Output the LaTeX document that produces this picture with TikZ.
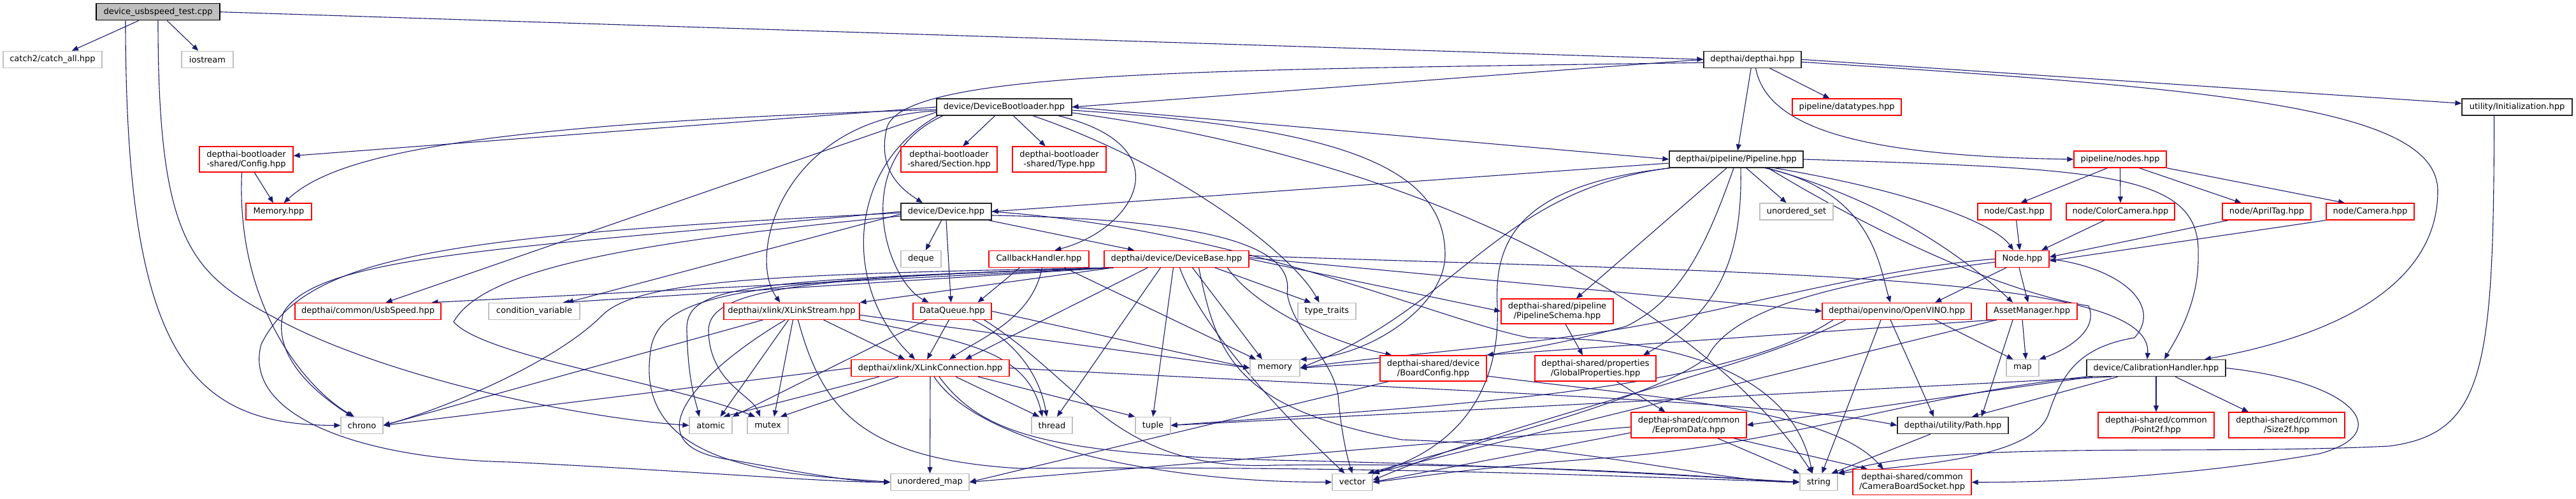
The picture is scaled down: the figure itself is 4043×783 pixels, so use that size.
\documentclass[tikz,border=0pt]{standalone}
\usepackage{fontspec}
\setmainfont{DejaVu Sans}
\usetikzlibrary{arrows.meta}
\definecolor{edgec}{HTML}{191970}
\definecolor{ndgray}{HTML}{BFBFBF}
\pgfdeclarelayer{bg}
\pgfsetlayers{bg,main}
\tikzset{
  box/.style={rectangle, fill=white, inner sep=0pt, minimum height=26pt, line width=1.3pt, align=center, font=\fontsize{13}{15}\selectfont},
  sysbox/.style={box, draw=ndgray},
  docbox/.style={box, draw=black!85},
  redbox/.style={box, draw=red},
  rootbox/.style={box, draw=black, fill=ndgray},
  e/.style={draw=edgec, line width=1.1pt, -{Triangle[length=10pt,width=8pt]}},
}
\begin{document}
\begin{tikzpicture}[x=1pt,y=-1pt]
\useasboundingbox (0,0) rectangle (4043,783);
% ---------- nodes ----------
\node[rootbox, minimum width=194pt] (test) at (248,18.7) {device\_usbspeed\_test.cpp};
\node[sysbox, minimum width=155pt] (catch) at (82.5,93.3) {catch2/catch\_all.hpp};
\node[sysbox, minimum width=81pt] (iostream) at (325.5,93.3) {iostream};
\node[docbox, minimum width=153pt] (depthai) at (2750.5,93.3) {depthai/depthai.hpp};
\node[docbox, minimum width=212pt] (db) at (1576,168) {device/DeviceBootloader.hpp};
\node[redbox, minimum width=171pt] (datatypes) at (2898.5,168) {pipeline/datatypes.hpp};
\node[docbox, minimum width=173pt] (init) at (3950.5,168) {utility/Initialization.hpp};
\node[redbox, minimum width=147pt, minimum height=40pt] (blconfig) at (386.5,250) {depthai-bootloader\\-shared/Config.hpp};
\node[redbox, minimum width=151pt, minimum height=40pt] (blsection) at (1489.5,250) {depthai-bootloader\\-shared/Section.hpp};
\node[redbox, minimum width=147pt, minimum height=40pt] (bltype) at (1662.5,250) {depthai-bootloader\\-shared/Type.hpp};
\node[docbox, minimum width=210pt] (pipeline) at (2725,250) {depthai/pipeline/Pipeline.hpp};
\node[redbox, minimum width=145pt] (nodes) at (3327.5,250) {pipeline/nodes.hpp};
\node[redbox, minimum width=103pt] (blmemory) at (437.5,332) {Memory.hpp};
\node[docbox, minimum width=142pt] (device) at (1485,332) {device/Device.hpp};
\node[sysbox, minimum width=115pt] (uset) at (2819.5,332) {unordered\_set};
\node[redbox, minimum width=115pt] (cast) at (3161.5,332) {node/Cast.hpp};
\node[redbox, minimum width=170pt] (colorcam) at (3328,332) {node/ColorCamera.hpp};
\node[redbox, minimum width=139pt] (apriltag) at (3557.5,332) {node/AprilTag.hpp};
\node[redbox, minimum width=138pt] (camera) at (3720,332) {node/Camera.hpp};
\node[sysbox, minimum width=63pt] (deque) at (1445.5,406.3) {deque};
\node[redbox, minimum width=157pt] (callback) at (1630.5,406.3) {CallbackHandler.hpp};
\node[redbox, minimum width=227pt] (devbase) at (1846.5,406.3) {depthai/device/DeviceBase.hpp};
\node[redbox, minimum width=84pt] (nodehpp) at (3174,406.3) {Node.hpp};
\node[redbox, minimum width=229pt] (usb) at (577.5,488.3) {depthai/common/UsbSpeed.hpp};
\node[sysbox, minimum width=143pt] (condvar) at (838.5,488.3) {condition\_variable};
\node[redbox, minimum width=213pt] (xstream) at (1242.5,488.3) {depthai/xlink/XLinkStream.hpp};
\node[redbox, minimum width=123pt] (dataqueue) at (1494.5,488.3) {DataQueue.hpp};
\node[sysbox, minimum width=91pt] (typetraits) at (2082.5,488.3) {type\_traits};
\node[redbox, minimum width=176pt, minimum height=39pt] (schema) at (2444,488.5) {depthai-shared/pipeline\\/PipelineSchema.hpp};
\node[redbox, minimum width=234pt] (openvino) at (2977,488.3) {depthai/openvino/OpenVINO.hpp};
\node[redbox, minimum width=142pt] (asset) at (3189,488.3) {AssetManager.hpp};
\node[redbox, minimum width=248pt] (xconn) at (1460,577.5) {depthai/xlink/XLinkConnection.hpp};
\node[sysbox, minimum width=78pt] (stdmemory) at (2001,577.5) {memory};
\node[redbox, minimum width=167pt, minimum height=40pt] (board) at (2249.5,578) {depthai-shared/device\\/BoardConfig.hpp};
\node[redbox, minimum width=190pt, minimum height=40pt] (global) at (2504,578) {depthai-shared/properties\\/GlobalProperties.hpp};
\node[sysbox, minimum width=51pt] (stdmap) at (3174.5,577.5) {map};
\node[docbox, minimum width=218pt] (calib) at (3384,577.5) {device/CalibrationHandler.hpp};
\node[sysbox, minimum width=66pt] (chrono) at (568,667.5) {chrono};
\node[sysbox, minimum width=67pt] (atomic) at (1115.5,667.5) {atomic};
\node[sysbox, minimum width=64pt] (mutex) at (1205,667.5) {mutex};
\node[sysbox, minimum width=64pt] (thread) at (1651,667.5) {thread};
\node[sysbox, minimum width=55pt] (tuple) at (1809.5,667.5) {tuple};
\node[redbox, minimum width=181pt, minimum height=40pt] (eeprom) at (2650.5,667) {depthai-shared/common\\/EepromData.hpp};
\node[docbox, minimum width=174pt] (utilpath) at (3065,667.5) {depthai/utility/Path.hpp};
\node[redbox, minimum width=182pt, minimum height=40pt] (point2f) at (3384,667) {depthai-shared/common\\/Point2f.hpp};
\node[redbox, minimum width=182pt, minimum height=40pt] (size2f) at (3589,667) {depthai-shared/common\\/Size2f.hpp};
\node[sysbox, minimum width=123pt] (umap) at (1459.5,756.5) {unordered\_map};
\node[sysbox, minimum width=63pt] (stdvector) at (2122.5,756.5) {vector};
\node[sysbox, minimum width=59pt] (stdstring) at (2854.5,756.5) {string};
\node[redbox, minimum width=186pt, minimum height=40pt] (socket) at (3001,756.7) {depthai-shared/common\\/CameraBoardSocket.hpp};
\coordinate (dbl) at ([xshift=15pt]devbase.south west);
% ---------- edges ----------
\begin{pgfonlayer}{bg}
% test
\draw[e] (test) -- (catch);
\draw[e] (test) -- (iostream);
\draw[e] (test.east) -- (depthai.west);
\draw[e] ([xshift=-51pt]test.south) .. controls (197,560) and (300,667) .. (chrono.west);
\draw[e] (test.south) .. controls (248,380) and (300,430) .. (434,500) .. controls (600,590) and (900,655) .. (atomic.west);
% depthai
\draw[e] (depthai.west) -- (db.east);
\draw[e] ([yshift=-5pt]depthai.west) .. controls (1900,110) and (1420,110) .. (1392,200) .. controls (1375,270) and (1420,300) .. ([xshift=-37pt]device.north);
\draw[e] (depthai) -- (pipeline);
\draw[e] (depthai) -- (datatypes);
\draw[e] ([xshift=5pt]depthai.south) .. controls (2775,210) and (2950,245) .. (nodes.west);
\draw[e] (depthai.east) -- (init);
\draw[e] ([yshift=-4pt]depthai.east) .. controls (3500,140) and (3826,170) .. (3826,300) .. controls (3826,430) and (3700,520) .. ([xshift=76pt]calib.north);
% init
\draw[e] ([xshift=-36pt]init.south) .. controls (3914,580) and (3900,680) .. (3750,700) .. controls (3450,715) and (3050,690) .. (stdstring.north east);
% device bootloader
\draw[e] (db.west) -- (blconfig);
\draw[e] ([yshift=-4pt]db.west) .. controls (700,195) and (520,250) .. ([xshift=8pt]blmemory.north);
\draw[e] (db) -- (blsection);
\draw[e] (db) -- (bltype);
\draw[e] (db.east) -- (pipeline.west);
\draw[e] ([xshift=85pt]db.south) .. controls (1860,230) and (1780,360) .. ([xshift=25pt]callback.north);
\draw[e] ([yshift=-6pt]db.west) .. controls (1230,185) and (1170,400) .. ([xshift=-18pt]xstream.north);
\draw[e] ([xshift=-104pt]db.south) .. controls (1330,260) and (1320,450) .. ([xshift=-24pt]xconn.north);
\draw[e] ([xshift=-96pt]db.south) .. controls (1330,250) and (1390,440) .. ([xshift=-37pt]dataqueue.north);
\draw[e] ([yshift=-8pt]db.west) -- ([xshift=28pt]usb.north);
\draw[e] ([yshift=-5pt]db.east) .. controls (2100,200) and (2268,260) .. (2268,400) .. controls (2268,480) and (2150,560) .. (stdmemory.north east);
\draw[e] ([xshift=45pt]db.south) .. controls (1850,260) and (2030,400) .. ([xshift=-12pt]typetraits.north);
\draw[e] ([yshift=-9pt]db.east) .. controls (2300,260) and (2700,520) .. ([xshift=-10pt]stdstring.north);
% bootloader config
\draw[e] (blconfig) -- (blmemory);
\draw[e] ([xshift=-7pt]blconfig.south) .. controls (370,480) and (480,610) .. ([xshift=-12pt]chrono.north);
% pipeline
\draw[e] ([yshift=-6pt]pipeline.west) -- (device.east);
\draw[e] (pipeline) -- (uset);
\draw[e] ([xshift=60pt]pipeline.south) .. controls (3000,300) and (3130,350) .. ([xshift=-14pt]nodehpp.north);
\draw[e] ([xshift=45pt]pipeline.south) .. controls (2940,300) and (2950,420) .. ([xshift=-10pt]openvino.north);
\draw[e] ([xshift=48pt]pipeline.south) .. controls (2980,320) and (3100,420) .. ([xshift=-30pt]asset.north);
\draw[e] ([xshift=50pt]pipeline.south) .. controls (2950,370) and (3150,460) .. (3278,480) .. controls (3295,520) and (3240,550) .. (stdmap.north east);
\draw[e] ([xshift=-15pt]pipeline.south) -- ([xshift=30pt]schema.north);
\draw[e] ([xshift=7pt]pipeline.south) .. controls (2735,400) and (2700,490) .. ([xshift=75pt]global.north);
\draw[e] ([xshift=-4pt]pipeline.south) .. controls (2680,380) and (2640,470) .. (2552,512) .. controls (2450,540) and (2380,550) .. (board.north east);
\draw[e] (pipeline.east) .. controls (3300,265) and (3455,270) .. (3450,400) .. controls (3452,480) and (3410,540) .. ([xshift=13pt]calib.north);
\draw[e] (pipeline.south west) .. controls (2350,300) and (2290,480) .. (stdmemory.east);
\draw[e] ([xshift=3pt]pipeline.south west) .. controls (2380,290) and (2345,380) .. (2350,480) .. controls (2355,600) and (2300,700) .. (stdvector.north east);
% nodes
\draw[e] ([xshift=-20pt]nodes.south) -- ([xshift=10pt]cast.north);
\draw[e] (nodes.south) -- (colorcam.north);
\draw[e] ([xshift=30pt]nodes.south) -- ([xshift=-40pt]apriltag.north);
\draw[e] (nodes.south east) -- ([xshift=-40pt]camera.north);
\draw[e] ([xshift=3pt]cast.south) -- ([xshift=-4pt]nodehpp.north);
\draw[e] ([xshift=-25pt]colorcam.south) -- ([xshift=30pt]nodehpp.north);
\draw[e] ([xshift=10pt]apriltag.south west) -- ([yshift=3pt]nodehpp.east);
\draw[e] (camera.south west) -- ([yshift=-3pt]nodehpp.east);
% device
\draw[e] (device) -- (deque);
\draw[e] (device.south) -- ([xshift=-2pt]dataqueue.north);
\draw[e] (device) -- (devbase);
\draw[e] (device.west) .. controls (800,390) and (500,400) .. (445,490) .. controls (425,560) and (500,620) .. ([xshift=-15pt]chrono.north);
\draw[e] ([yshift=-4pt]device.west) -- (condvar);
\draw[e] ([yshift=-7pt]device.west) .. controls (1000,380) and (760,420) .. (712,505) .. controls (760,560) and (1050,600) .. ([xshift=-20pt]mutex.north);
\draw[e] ([yshift=-2pt]device.west) .. controls (700,370) and (480,400) .. (410,540) .. controls (380,650) and (560,720) .. (800,725) .. controls (1100,740) and (1300,757) .. (umap.west);
\draw[e] (device.east) .. controls (1950,360) and (2250,500) .. (2400,530) .. controls (2700,530) and (2820,620) .. ([xshift=-10pt]stdstring.north);
\draw[e] ([yshift=-6pt]device.east) .. controls (1950,345) and (2030,400) .. (2020,460) .. controls (2030,520) and (2090,560) .. (2100,620) .. controls (2105,680) and (2115,720) .. (stdvector.north);
% device base
\draw[e] (dbl) -- ([xshift=100pt]usb.north);
\draw[e] (dbl) -- ([xshift=45pt]condvar.north);
\draw[e] (dbl) -- (xstream.north east);
\draw[e] (dbl) .. controls (1200,430) and (1000,440) .. (945,495) .. controls (870,570) and (700,640) .. (chrono.east);
\draw[e] (dbl) .. controls (1150,440) and (1075,450) .. (1078,520) .. controls (1080,600) and (1092,630) .. ([xshift=-18pt]atomic.north);
\draw[e] (dbl) .. controls (1250,435) and (1110,455) .. (1112,520) .. controls (1114,600) and (1180,620) .. ([xshift=-12pt]mutex.north);
\draw[e] (dbl) .. controls (1150,440) and (1025,460) .. (1020,560) .. controls (1000,740) and (1250,745) .. (umap.west);
\draw[e] ([xshift=-45pt]devbase.south) -- ([xshift=55pt]xconn.north);
\draw[e] ([xshift=-25pt]devbase.south) -- ([xshift=8pt]thread.north);
\draw[e] ([xshift=-5pt]devbase.south) -- (tuple.north);
\draw[e] ([xshift=5pt]devbase.south) .. controls (1880,500) and (1980,620) .. ([xshift=-12pt]stdvector.north);
\draw[e] ([xshift=25pt]devbase.south) -- ([xshift=-20pt]stdmemory.north);
\draw[e] ([xshift=35pt]devbase.south) .. controls (1910,560) and (1940,640) .. (2200,690) .. controls (2500,700) and (2700,757) .. (stdstring.west);
\draw[e] ([xshift=60pt]devbase.south) -- ([xshift=-25pt]typetraits.north);
\draw[e] ([xshift=80pt]devbase.south) .. controls (1960,470) and (2060,530) .. ([xshift=-65pt]board.north);
\draw[e] (devbase.east) -- (schema.west);
\draw[e] ([yshift=2pt]devbase.east) -- (openvino.west);
\draw[e] ([yshift=5pt]devbase.east) .. controls (2800,430) and (3380,430) .. ([xshift=-14pt]calib.north);
% callback handler
\draw[e] ([xshift=-30pt]callback.south) -- ([xshift=40pt]dataqueue.north);
\draw[e] ([xshift=5pt]callback.south) .. controls (1620,500) and (1540,530) .. ([xshift=30pt]xconn.north);
\draw[e] ([xshift=40pt]callback.south) -- ([xshift=-30pt]stdmemory.north);
% data queue
\draw[e] ([xshift=-40pt]dataqueue.south) -- (atomic.north east);
\draw[e] ([xshift=-5pt]dataqueue.south) -- ([xshift=-5pt]xconn.north);
\draw[e] (dataqueue.east) -- (stdmemory.west);
\draw[e] ([xshift=32pt]dataqueue.south) .. controls (1585,530) and (1630,580) .. ([xshift=-8pt]thread.north);
\draw[e] ([xshift=50pt]dataqueue.south) .. controls (1700,600) and (1750,740) .. (2000,730) .. controls (2400,725) and (2700,750) .. (stdstring.west);
% xlink stream
\draw[e] ([xshift=-45pt]xstream.south) -- (chrono.east);
\draw[e] ([xshift=-5pt]xstream.south) -- ([xshift=15pt]atomic.north);
\draw[e] ([xshift=2pt]xstream.south) -- ([xshift=10pt]mutex.north);
\draw[e] ([xshift=-10pt]xstream.south) .. controls (1100,580) and (980,700) .. (1150,722) .. controls (1250,740) and (1340,757) .. (umap.west);
\draw[e] ([xshift=50pt]xstream.south) -- ([xshift=-40pt]xconn.north);
\draw[e] (xstream.south east) .. controls (1500,535) and (1610,545) .. ([xshift=-15pt]thread.north);
\draw[e] ([yshift=-6pt]xstream.east) -- (stdmemory.west);
\draw[e] ([xshift=10pt]xstream.south) .. controls (1290,640) and (1350,720) .. (1600,735) .. controls (2200,730) and (2650,752) .. (stdstring.west);
% xlink connection
\draw[e] (xconn.west) -- (chrono.east);
\draw[e] ([xshift=-80pt]xconn.south) -- ([xshift=20pt]atomic.north);
\draw[e] ([xshift=-50pt]xconn.south) -- ([xshift=20pt]mutex.north);
\draw[e] (xconn.south) -- (umap.north);
\draw[e] ([xshift=6pt]xconn.south) .. controls (1530,690) and (1800,757) .. (stdvector.west);
\draw[e] ([xshift=14pt]xconn.south) .. controls (1540,680) and (1640,712) .. (2000,722) .. controls (2400,730) and (2700,750) .. (stdstring.west);
\draw[e] ([xshift=40pt]xconn.south) -- ([xshift=-20pt]thread.north);
\draw[e] ([xshift=75pt]xconn.south) -- (tuple.north west);
\draw[e] (xconn.east) .. controls (2200,610) and (2800,630) .. (utilpath.west);
% node
\draw[e] ([xshift=-25pt]nodehpp.south) -- ([xshift=60pt]openvino.north);
\draw[e] ([xshift=-5pt]nodehpp.south) -- ([xshift=-6pt]asset.north);
\draw[e] (nodehpp.west) .. controls (2950,420) and (2700,490) .. (2550,515) .. controls (2350,548) and (2150,560) .. (stdmemory.east);
\draw[e] ([yshift=-5pt]nodehpp.west) .. controls (2900,440) and (2720,480) .. (2680,560) .. controls (2600,625) and (2300,700) .. ([xshift=-8pt]stdvector.north east);
\draw[e] (nodehpp.east) .. controls (3330,420) and (3395,480) .. (3350,530) .. controls (3260,545) and (3235,590) .. (3215,650) .. controls (3190,720) and (3000,730) .. (stdstring.north east);
% openvino
\draw[e] ([xshift=60pt]openvino.south) -- ([xshift=-15pt]stdmap.north);
\draw[e] ([xshift=-10pt]openvino.south) -- ([xshift=-30pt]utilpath.north);
\draw[e] ([xshift=-25pt]openvino.south) -- ([xshift=5pt]stdstring.north);
\draw[e] ([xshift=-80pt]openvino.south) .. controls (2750,580) and (2400,650) .. ([yshift=3pt]stdvector.east);
\draw[e] ([xshift=-100pt]openvino.south) .. controls (2700,620) and (2200,640) .. (tuple.east);
% asset manager
\draw[e] ([xshift=-15pt]asset.south) -- ([xshift=5pt]stdmap.north);
\draw[e] ([xshift=-30pt]asset.south) -- ([xshift=45pt]utilpath.north);
\draw[e] ([xshift=-60pt]asset.south) -- (stdmemory.east);
\draw[e] ([xshift=-55pt]asset.south) -- (stdvector.north east);
% calibration handler
\draw[e] ([xshift=-100pt]calib.south) -- (eeprom.east);
\draw[e] ([xshift=-60pt]calib.south) -- ([xshift=30pt]utilpath.north);
\draw[e] ([xshift=-70pt]calib.south) -- (tuple.east);
\draw[e] (calib.south west) .. controls (3000,620) and (2800,700) .. (2500,720) .. controls (2300,735) and (2200,752) .. (stdvector.east);
\draw[e] (calib.south) -- (point2f.north);
\draw[e] ([xshift=30pt]calib.south) -- ([xshift=-60pt]size2f.north);
\draw[e] (calib.east) .. controls (3700,600) and (3760,680) .. (3640,712) .. controls (3450,745) and (3250,757) .. (socket.east);
% shared
\draw[e] ([xshift=13pt]schema.south) -- ([xshift=-20pt]global.north);
\draw[e] ([xshift=33pt]global.south) -- ([xshift=-37pt]eeprom.north);
\draw[e] ([xshift=-70pt]board.south) -- (umap.east);
\draw[e] ([yshift=-12pt]board.east) .. controls (2600,625) and (2870,640) .. ([xshift=-45pt]socket.north);
\draw[e] ([xshift=45pt]eeprom.south) -- (stdstring.north west);
\draw[e] ([xshift=70pt]eeprom.south) -- ([xshift=-70pt]socket.north);
\draw[e] ([yshift=-12pt]eeprom.west) -- (stdvector.east);
\draw[e] ([yshift=-3pt]eeprom.west) -- (umap.east);
% path
\draw[e] ([xshift=-35pt]utilpath.south) -- ([xshift=20pt]stdstring.north);
\end{pgfonlayer}
\end{tikzpicture}
\end{document}
